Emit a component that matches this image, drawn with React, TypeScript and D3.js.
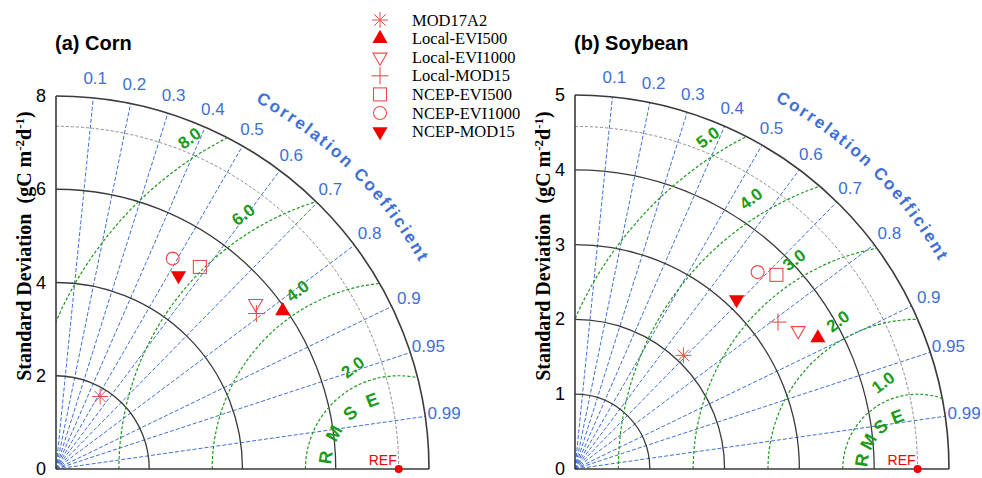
import React, { useRef, useEffect } from 'react';
import * as d3 from 'd3';

// legend / model names, in legend order
const models = ['MOD17A2', 'Local-EVI500', 'Local-EVI1000', 'Local-MOD15', 'NCEP-EVI500', 'NCEP-EVI1000', 'NCEP-MOD15'];
const shapes = ['asterisk', 'triUp', 'triDownOpen', 'plus', 'square', 'circle', 'triDown'];

// corn (std dev, correlation)
const cornStd = [1.82, 5.93, 5.56, 5.44, 5.32, 5.16, 4.91];
const cornCorr = [0.52, 0.82, 0.77, 0.79, 0.58, 0.485, 0.535];
const cornRef = 7.35;
const cornStdTicks = [0, 2, 4, 6, 8];
const cornRmse = [2, 4, 6, 8];

// soybean
const soyStd = [2.1, 3.69, 3.51, 3.35, 3.74, 3.59, 3.13];
const soyCorr = [0.69, 0.88, 0.85, 0.81, 0.72, 0.68, 0.69];
const soyRef = 4.58;
const soyStdTicks = [0, 1, 2, 3, 4, 5];
const soyRmse = [1, 2, 3, 4, 5];

const corrTicks = [0.1, 0.2, 0.3, 0.4, 0.5, 0.6, 0.7, 0.8, 0.9, 0.95, 0.99];
const rmseLetters = ['R', 'M', 'S', 'E'];

const SANS = '"Liberation Sans", Arial, Helvetica, sans-serif';
const SERIF = '"Liberation Serif", "Times New Roman", serif';
const BLUE = '#3f6fd8';
const GREEN = '#1c9a1c';
const RED = '#f20000';
const RED_OPEN = '#ee4a4a';

function drawMarker(g, shape, x, y) {
  const m = g.append('g').attr('transform', `translate(${x},${y})`);
  if (shape === 'asterisk') {
    [0, 45, 90, 135].forEach(a => {
      const r = (a * Math.PI) / 180;
      m.append('line')
        .attr('x1', -8 * Math.cos(r)).attr('y1', -8 * Math.sin(r))
        .attr('x2', 8 * Math.cos(r)).attr('y2', 8 * Math.sin(r))
        .attr('stroke', RED_OPEN).attr('stroke-width', 1);
    });
  } else if (shape === 'plus') {
    m.append('line').attr('x1', -8.5).attr('x2', 8.5).attr('y1', 0).attr('y2', 0)
      .attr('stroke', RED_OPEN).attr('stroke-width', 1.1);
    m.append('line').attr('x1', 0).attr('x2', 0).attr('y1', -8.5).attr('y2', 8.5)
      .attr('stroke', RED_OPEN).attr('stroke-width', 1.1);
  } else if (shape === 'square') {
    m.append('rect').attr('x', -6.5).attr('y', -6.5).attr('width', 13).attr('height', 13)
      .attr('fill', 'none').attr('stroke', RED_OPEN).attr('stroke-width', 1.1);
  } else if (shape === 'circle') {
    m.append('circle').attr('r', 6.5)
      .attr('fill', 'none').attr('stroke', RED_OPEN).attr('stroke-width', 1.1);
  } else {
    const tri = d3.symbol().type(d3.symbolTriangle).size(shape === 'triDownOpen' ? 85 : 100)();
    m.append('path')
      .attr('d', tri)
      .attr('transform', shape === 'triUp' ? null : 'rotate(180)')
      .attr('fill', shape === 'triDownOpen' ? 'none' : RED)
      .attr('stroke', shape === 'triDownOpen' ? RED_OPEN : 'none')
      .attr('stroke-width', 1.1);
  }
}

function drawPanel(svg, p) {
  const { id, ox, oy, R, title, ticks, ref, rmse, std, corr, rmseLabelR } = p;
  const maxStd = ticks[ticks.length - 1];
  const s = d3.scaleLinear().domain([0, maxStd]).range([0, R]);
  const g = svg.append('g');
  const refX = ox + s(ref);

  // title
  g.append('text').attr('x', ox - 1).attr('y', 50).text(title)
    .style('font-family', SANS).style('font-weight', 'bold').style('font-size', '20px');

  // correlation rays
  corrTicks.forEach(c => {
    const a = Math.acos(c);
    g.append('line')
      .attr('x1', ox).attr('y1', oy)
      .attr('x2', ox + R * Math.cos(a)).attr('y2', oy - R * Math.sin(a))
      .attr('stroke', BLUE).attr('stroke-width', 1).attr('stroke-dasharray', '4,2');
  });

  // std dev arcs
  ticks.filter(t => t > 0).forEach(t => {
    const path = d3.path();
    path.moveTo(ox, oy - s(t));
    path.arc(ox, oy, s(t), -Math.PI / 2, 0);
    g.append('path').attr('d', path.toString()).attr('fill', 'none')
      .attr('stroke', '#3a3a3a').attr('stroke-width', t === maxStd ? 1.6 : 1.3);
  });

  // ref arc
  const rp = d3.path();
  rp.moveTo(ox, oy - s(ref));
  rp.arc(ox, oy, s(ref), -Math.PI / 2, 0);
  g.append('path').attr('d', rp.toString()).attr('fill', 'none')
    .attr('stroke', '#8a8a8a').attr('stroke-width', 1).attr('stroke-dasharray', '3,2');

  // RMSE arcs clipped to quarter disc
  const clip = d3.path();
  clip.moveTo(ox, oy);
  clip.lineTo(ox, oy - R);
  clip.arc(ox, oy, R, -Math.PI / 2, 0);
  clip.closePath();
  svg.select('defs').append('clipPath').attr('id', `clip-${id}`)
    .append('path').attr('d', clip.toString());
  const rg = g.append('g').attr('clip-path', `url(#clip-${id})`);
  rmse.forEach(v => {
    const r = s(v);
    const path = d3.path();
    path.moveTo(refX - r, oy);
    path.arc(refX, oy, r, Math.PI, 2 * Math.PI);
    rg.append('path').attr('d', path.toString()).attr('fill', 'none')
      .attr('stroke', GREEN).attr('stroke-width', 1.2).attr('stroke-dasharray', '3,2');
  });

  // RMSE value labels
  rmse.forEach(v => {
    const r = s(v);
    const th = ((125 - 1000 / r) * Math.PI) / 180;
    const lx = refX + (r + 18) * Math.cos(th);
    const ly = oy - (r + 18) * Math.sin(th);
    g.append('text')
      .attr('transform', `translate(${lx},${ly}) rotate(-37)`)
      .attr('text-anchor', 'middle').attr('dominant-baseline', 'central')
      .text(d3.format('.1f')(v))
      .style('font-family', SANS).style('font-weight', 'bold').style('font-size', '17px')
      .style('fill', GREEN);
  });

  // R M S E letters
  [171, 151, 131, 111].forEach((deg, i) => {
    const th = (deg * Math.PI) / 180;
    const lx = refX + s(rmseLabelR) * Math.cos(th);
    const ly = oy - s(rmseLabelR) * Math.sin(th);
    g.append('text')
      .attr('transform', `translate(${lx},${ly}) rotate(${-(deg - 90)})`)
      .attr('text-anchor', 'middle').attr('dominant-baseline', 'central')
      .text(rmseLetters[i])
      .style('font-family', SANS).style('font-weight', 'bold').style('font-size', '18px')
      .style('fill', GREEN);
  });

  // axes
  g.append('line').attr('x1', ox).attr('y1', oy).attr('x2', ox).attr('y2', oy - R)
    .attr('stroke', '#3a3a3a').attr('stroke-width', 1.6);
  g.append('line').attr('x1', ox).attr('y1', oy).attr('x2', ox + R).attr('y2', oy)
    .attr('stroke', '#3a3a3a').attr('stroke-width', 1.6);

  // std tick labels
  ticks.forEach(t => {
    g.append('text').attr('x', ox - 10).attr('y', oy - s(t))
      .attr('text-anchor', 'end').attr('dominant-baseline', 'central')
      .text(t).style('font-family', SANS).style('font-size', '18px');
  });

  // y title
  const yt = g.append('text')
    .attr('transform', `translate(${ox - 25},${oy - 223}) rotate(-90)`)
    .attr('text-anchor', 'middle')
    .style('font-family', SERIF).style('font-weight', 'bold').style('font-size', '20px');
  yt.append('tspan').text('Standard Deviation\u00a0\u00a0(gC m');
  yt.append('tspan').attr('dy', -7).style('font-size', '13px').text('-2');
  yt.append('tspan').attr('dy', 7).text('d');
  yt.append('tspan').attr('dy', -7).style('font-size', '13px').text('-1');
  yt.append('tspan').attr('dy', 7).text(')');

  // correlation labels
  corrTicks.forEach(c => {
    const a = Math.acos(c);
    g.append('text')
      .attr('x', ox + (R + 19) * Math.cos(a)).attr('y', oy - (R + 19) * Math.sin(a))
      .attr('text-anchor', 'middle').attr('dominant-baseline', 'central')
      .text(c).style('font-family', SANS).style('font-size', '17px').style('fill', BLUE);
  });

  // curved "Correlation Coefficient": lay out on a path, then split into single letters
  const cr = R + 45;
  const a0 = (61.5 * Math.PI) / 180;
  const a1 = (25 * Math.PI) / 180;
  svg.select('defs').append('path').attr('id', `cc-${id}`)
    .attr('d', `M${ox + cr * Math.cos(a0)},${oy - cr * Math.sin(a0)} A${cr},${cr} 0 0 1 ${ox + cr * Math.cos(a1)},${oy - cr * Math.sin(a1)}`);
  const label = 'Correlation Coefficient';
  const ct = g.append('text')
    .style('font-family', SANS).style('font-weight', 'bold').style('font-size', '17px')
    .style('letter-spacing', '2.2px').style('fill', BLUE);
  ct.append('textPath').attr('href', `#cc-${id}`).text(label);
  const node = ct.node();
  try {
    const letters = [];
    for (let i = 0; i < label.length; i++) {
      if (label[i] === ' ') continue;
      const pt = node.getStartPositionOfChar(i);
      const rot = node.getRotationOfChar(i);
      letters.push({ ch: label[i], x: pt.x, y: pt.y, rot });
    }
    if (letters.length) {
      ct.remove();
      letters.forEach(l => {
        g.append('text')
          .attr('transform', `translate(${l.x},${l.y}) rotate(${l.rot})`)
          .text(l.ch)
          .style('font-family', SANS).style('font-weight', 'bold').style('font-size', '17px')
          .style('fill', BLUE);
      });
    }
  } catch (e) {
    // keep the textPath version
  }

  // REF point
  g.append('circle').attr('cx', refX).attr('cy', oy).attr('r', 4).attr('fill', RED);
  g.append('text').attr('x', refX - 2).attr('y', oy - 4).attr('text-anchor', 'end')
    .text('REF').style('font-family', SANS).style('font-size', '14px').style('fill', RED);

  // model points
  std.forEach((v, i) => {
    const a = Math.acos(corr[i]);
    drawMarker(g, shapes[i], ox + s(v) * Math.cos(a), oy - s(v) * Math.sin(a));
  });
}

function TaylorDiagrams() {
  const svgRef = useRef();

  useEffect(() => {
    const svg = d3.select(svgRef.current);
    svg.selectAll('*').remove();
    svg.append('defs');

    drawPanel(svg, {
      id: 'corn', ox: 56, oy: 469, R: 373, title: '(a) Corn',
      ticks: cornStdTicks, ref: cornRef, rmse: cornRmse,
      std: cornStd, corr: cornCorr, rmseLabelR: 1.58,
    });
    drawPanel(svg, {
      id: 'soy', ox: 575, oy: 469, R: 374, title: '(b) Soybean',
      ticks: soyStdTicks, ref: soyRef, rmse: soyRmse,
      std: soyStd, corr: soyCorr, rmseLabelR: 0.75,
    });

    // legend
    const lg = svg.append('g');
    models.forEach((m, i) => {
      const y = 20 + i * 18.6;
      drawMarker(lg, shapes[i], 380, y);
      lg.append('text').attr('x', 412).attr('y', y).attr('dominant-baseline', 'central')
        .text(m).style('font-family', SERIF).style('font-size', '16.5px');
    });
  }, []);

  return (
    <svg ref={svgRef} width={982} height={478}
      style={{ position: 'absolute', left: 0, top: 0, background: '#fff' }} />
  );
}

export default function App() {
  return <TaylorDiagrams />;
}
